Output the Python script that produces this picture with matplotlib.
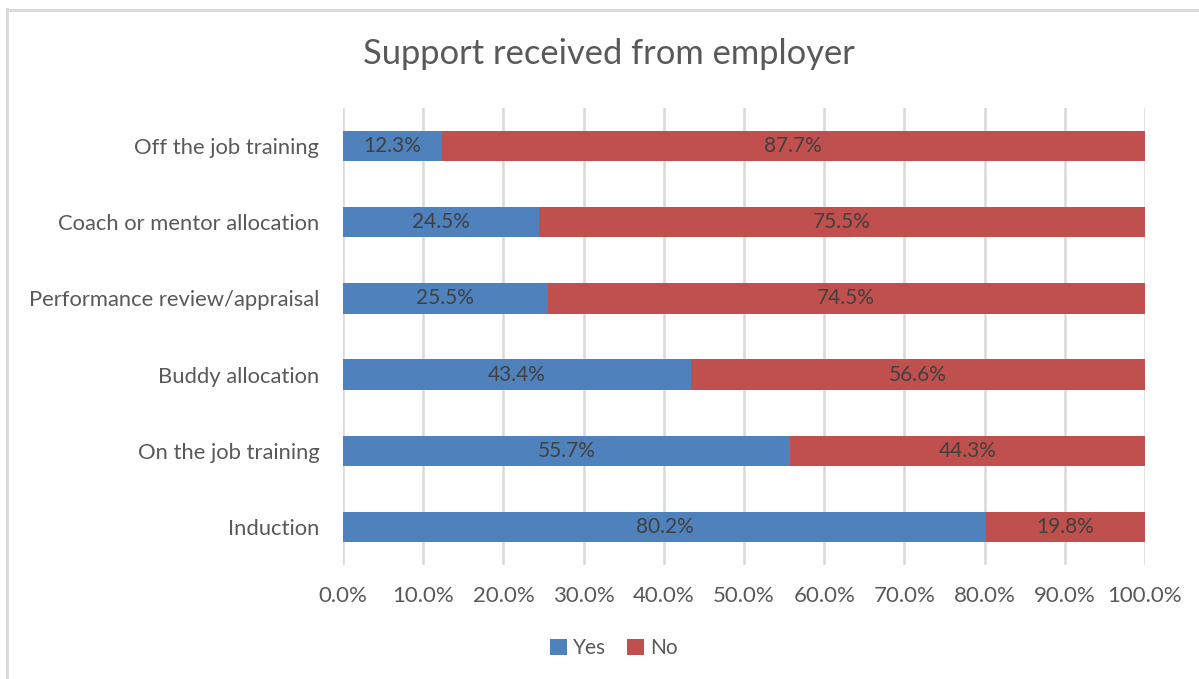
import matplotlib
matplotlib.use("Agg")
import matplotlib.pyplot as plt
from matplotlib.lines import Line2D
from matplotlib.patches import Patch
import numpy as np

categories = ["Induction", "On the job training", "Buddy allocation",
              "Performance review/appraisal", "Coach or mentor allocation",
              "Off the job training"]
yes_vals = [80.2, 55.7, 43.4, 25.5, 24.5, 12.3]
no_vals = [19.8, 44.3, 56.6, 74.5, 75.5, 87.7]
x_ticks = [0, 10, 20, 30, 40, 50, 60, 70, 80, 90, 100]

BLUE = "#4F81BD"
RED = "#C0504D"
TEXT = "#595959"
LABEL = "#404040"
GRID = "#D9D9D9"

plt.rcParams["font.family"] = ["Lato", "DejaVu Sans"]

fig = plt.figure(figsize=(11.99, 6.79), dpi=100)
ax = fig.add_axes([343 / 1199, 1 - 565 / 679, (1145 - 343) / 1199, (565 - 108) / 679])

y = np.arange(len(categories))
h = 0.4
ax.barh(y, yes_vals, height=h, color=BLUE, label="Yes", zorder=3)
ax.barh(y, no_vals, left=yes_vals, height=h, color=RED, label="No", zorder=3)

for i, (a, b) in enumerate(zip(yes_vals, no_vals)):
    ax.text(a / 2, i, f"{a:.1f}%", ha="center", va="center", fontsize=15,
            color=LABEL, zorder=4)
    ax.text(a + b / 2, i, f"{b:.1f}%", ha="center", va="center", fontsize=15,
            color=LABEL, zorder=4)

ax.set_xlim(0, 100)
ax.set_ylim(-0.5, len(categories) - 0.5)
ax.set_xticks(x_ticks)
ax.set_xticklabels([f"{t:.1f}%" for t in x_ticks])
ax.set_yticks(y)
ax.set_yticklabels(categories)
ax.tick_params(axis="both", length=0, labelcolor=TEXT)
ax.tick_params(axis="x", pad=15, labelsize=16)
ax.tick_params(axis="y", pad=17, labelsize=15.8)
ax.grid(axis="x", color=GRID, linewidth=1.8, zorder=0)
for s in ax.spines.values():
    s.set_visible(False)

fig.text(609 / 1199, 1 - 54 / 679, "Support received from employer",
         ha="center", va="center", fontsize=24.8, color=TEXT)

handles = [Patch(facecolor=BLUE), Patch(facecolor=RED)]
fig.legend(handles, ["Yes", "No"], loc="center", bbox_to_anchor=(614 / 1199, 1 - 648 / 679),
           ncol=2, frameon=False, fontsize=15, labelcolor=TEXT,
           handlelength=0.8, handleheight=0.8, handletextpad=0.3, columnspacing=1.0)

# chart-area border (left and top edges)
fig.add_artist(Line2D([7 / 1199, 7 / 1199], [0, 1 - 9 / 679], transform=fig.transFigure,
                      color=GRID, linewidth=2))
fig.add_artist(Line2D([7 / 1199, 1], [1 - 9.5 / 679, 1 - 9.5 / 679], transform=fig.transFigure,
                      color=GRID, linewidth=2))

fig.savefig("out.png", dpi=100)
